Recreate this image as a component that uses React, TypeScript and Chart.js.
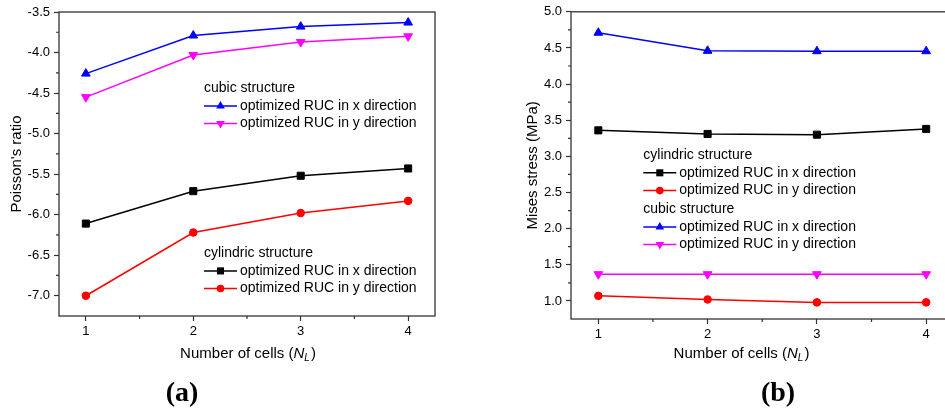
import React, { useEffect, useRef } from 'react';
import { Chart, registerables } from 'chart.js';

Chart.register(...registerables);

const FONT = "'Liberation Sans', Arial, Helvetica, sans-serif";
const FRAME = '#333333';

// ---- data ----
const CELLS = [1, 2, 3, 4];
const X_TICKS = [1, 2, 3, 4];
const POISSON_TICKS = [-7.0, -6.5, -6.0, -5.5, -5.0, -4.5, -4.0, -3.5];
const MISES_TICKS = [1.0, 1.5, 2.0, 2.5, 3.0, 3.5, 4.0, 4.5, 5.0];

const POISSON_CUBIC_X = [-4.26, -3.79, -3.68, -3.63];
const POISSON_CUBIC_Y = [-4.55, -4.03, -3.87, -3.8];
const POISSON_CYL_X = [-6.11, -5.71, -5.52, -5.43];
const POISSON_CYL_Y = [-7.0, -6.22, -5.98, -5.83];

const MISES_CYL_X = [3.36, 3.31, 3.3, 3.38];
const MISES_CYL_Y = [1.07, 1.02, 0.98, 0.98];
const MISES_CUBIC_X = [4.71, 4.46, 4.455, 4.455];
const MISES_CUBIC_Y = [1.37, 1.37, 1.37, 1.37];

const LABEL_X = 'optimized RUC in x direction';
const LABEL_Y = 'optimized RUC in y direction';
const CUBIC = 'cubic structure';
const CYL = 'cylindric structure';

type Marker = 'rect' | 'circle' | 'triangle' | 'triangleDown';

const BLUE = '#0000ff';
const MAGENTA = '#ff00ff';
const BLACK = '#000000';
const RED = '#ff0000';

function radiusFor(m: Marker) {
  if (m === 'rect') return 5;
  if (m === 'circle') return 3.8;
  return 5;
}

function makeDataset(label: string, values: number[], color: string, marker: Marker) {
  return {
    label,
    data: CELLS.map((x, i) => ({ x, y: values[i] })),
    borderColor: color,
    backgroundColor: color,
    borderWidth: 1.5,
    pointStyle: marker === 'triangleDown' ? 'triangle' : marker,
    pointRotation: marker === 'triangleDown' ? 180 : 0,
    pointRadius: radiusFor(marker),
    pointBorderWidth: 1,
    pointBackgroundColor: color,
    pointBorderColor: color,
    fill: false,
    tension: 0,
    marker,
  } as any;
}

function drawMarker(ctx: CanvasRenderingContext2D, m: Marker, x: number, y: number, color: string) {
  const r = radiusFor(m);
  ctx.fillStyle = color;
  ctx.beginPath();
  if (m === 'rect') {
    const s = Math.SQRT1_2 * r;
    ctx.rect(x - s, y - s, 2 * s, 2 * s);
  } else if (m === 'circle') {
    ctx.arc(x, y, r, 0, Math.PI * 2);
  } else {
    let rad = m === 'triangleDown' ? Math.PI : 0;
    for (let k = 0; k < 3; k++) {
      const px = x + Math.sin(rad) * r;
      const py = y - Math.cos(rad) * r;
      if (k === 0) ctx.moveTo(px, py);
      else ctx.lineTo(px, py);
      rad += (2 * Math.PI) / 3;
    }
    ctx.closePath();
  }
  ctx.fill();
}

const decorPlugin = {
  id: 'decor',
  afterDraw(chart: any, _args: any, opts: any) {
    const ctx: CanvasRenderingContext2D = chart.ctx;
    const a = chart.chartArea;
    const xs = chart.scales.x;
    const ys = chart.scales.y;
    ctx.save();

    // frame
    ctx.strokeStyle = FRAME;
    ctx.lineWidth = 1.3;
    ctx.strokeRect(a.left, a.top, a.right - a.left, a.bottom - a.top);

    // minor ticks
    ctx.lineWidth = 1.2;
    ctx.beginPath();
    const xt: number[] = opts.xTicks;
    for (let i = 0; i < xt.length - 1; i++) {
      const px = xs.getPixelForValue((xt[i] + xt[i + 1]) / 2);
      ctx.moveTo(px, a.bottom);
      ctx.lineTo(px, a.bottom + 3);
    }
    const yt: number[] = opts.yTicks;
    for (let i = 0; i < yt.length - 1; i++) {
      const py = ys.getPixelForValue((yt[i] + yt[i + 1]) / 2);
      ctx.moveTo(a.left, py);
      ctx.lineTo(a.left - 3, py);
    }
    ctx.stroke();

    // y title
    ctx.fillStyle = '#000';
    ctx.font = `15px ${FONT}`;
    ctx.textAlign = 'center';
    ctx.textBaseline = 'middle';
    ctx.save();
    ctx.translate(opts.yTitleX, (a.top + a.bottom) / 2);
    ctx.rotate(-Math.PI / 2);
    ctx.fillText(opts.yTitle, 0, 0);
    ctx.restore();

    // x title with italic N_L
    const parts = [
      { t: 'Number of cells (', f: `15px ${FONT}`, dy: 0 },
      { t: 'N', f: `italic 15px ${FONT}`, dy: 0 },
      { t: 'L', f: `italic 10px ${FONT}`, dy: 4 },
      { t: ')', f: `15px ${FONT}`, dy: 0 },
    ];
    let total = 0;
    for (const p of parts) {
      ctx.font = p.f;
      total += ctx.measureText(p.t).width;
    }
    let cx = opts.xTitleX - total / 2;
    ctx.textAlign = 'left';
    for (const p of parts) {
      ctx.font = p.f;
      ctx.fillText(p.t, cx, opts.xTitleY + p.dy);
      cx += ctx.measureText(p.t).width;
      if (p.t === 'L') cx += 1;
    }

    // legend groups
    ctx.font = `14px ${FONT}`;
    for (const g of opts.legend) {
      ctx.fillStyle = '#000';
      ctx.textAlign = 'left';
      ctx.textBaseline = 'middle';
      ctx.fillText(g.header, g.x, g.y);
      g.rows.forEach((di: number, k: number) => {
        const ds = chart.data.datasets[di];
        const ry = g.y + (k + 1) * g.gap;
        ctx.strokeStyle = ds.borderColor;
        ctx.lineWidth = 1.5;
        ctx.beginPath();
        ctx.moveTo(g.x, ry);
        ctx.lineTo(g.x + 33, ry);
        ctx.stroke();
        drawMarker(ctx, ds.marker, g.x + 16.5, ry, ds.borderColor);
        ctx.fillStyle = '#000';
        ctx.fillText(ds.label, g.x + 36, ry);
      });
    }
    ctx.restore();
  },
};

function buildConfig(p: {
  datasets: any[];
  yMin: number;
  yMax: number;
  yTicks: number[];
  yWidth: number;
  xHeight: number;
  padding: any;
  decor: any;
}) {
  return {
    type: 'line',
    data: { datasets: p.datasets },
    plugins: [decorPlugin],
    options: {
      responsive: false,
      animation: false,
      layout: { padding: p.padding },
      plugins: {
        legend: { display: false },
        tooltip: { enabled: false },
        decor: { ...p.decor, xTicks: X_TICKS, yTicks: p.yTicks },
      },
      scales: {
        x: {
          type: 'linear',
          min: 0.75,
          max: 4.25,
          afterBuildTicks: (s: any) => {
            s.ticks = X_TICKS.map((v) => ({ value: v }));
          },
          afterFit: (s: any) => {
            s.height = p.xHeight;
          },
          ticks: {
            font: { family: FONT, size: 13 },
            color: '#000',
            padding: 3,
            maxRotation: 0,
            autoSkip: false,
            callback: (v: any) => String(v),
          },
          grid: {
            display: true,
            drawOnChartArea: false,
            drawTicks: true,
            tickLength: 5,
            tickColor: FRAME,
            tickWidth: 1.2,
          },
          border: { display: false },
        },
        y: {
          type: 'linear',
          min: p.yMin,
          max: p.yMax,
          afterBuildTicks: (s: any) => {
            s.ticks = p.yTicks.map((v) => ({ value: v }));
          },
          afterFit: (s: any) => {
            s.width = p.yWidth;
          },
          ticks: {
            font: { family: FONT, size: 13 },
            color: '#000',
            padding: 4,
            autoSkip: false,
            callback: (v: any) => Number(v).toFixed(1),
          },
          grid: {
            display: true,
            drawOnChartArea: false,
            drawTicks: true,
            tickLength: 5,
            tickColor: FRAME,
            tickWidth: 1.2,
          },
          border: { display: false },
        },
      },
    },
  } as any;
}

export default function App() {
  const refA = useRef<HTMLCanvasElement>(null);
  const refB = useRef<HTMLCanvasElement>(null);

  useEffect(() => {
    const chartA = new Chart(
      refA.current as HTMLCanvasElement,
      buildConfig({
        datasets: [
          makeDataset(LABEL_X, POISSON_CUBIC_X, BLUE, 'triangle'),
          makeDataset(LABEL_Y, POISSON_CUBIC_Y, MAGENTA, 'triangleDown'),
          makeDataset(LABEL_X, POISSON_CYL_X, BLACK, 'rect'),
          makeDataset(LABEL_Y, POISSON_CYL_Y, RED, 'circle'),
        ],
        yMin: -7.25,
        yMax: -3.5,
        yTicks: POISSON_TICKS,
        yWidth: 59,
        xHeight: 97,
        padding: { left: 0, top: 12, right: 35, bottom: 0 },
        decor: {
          yTitle: "Poisson's ratio",
          yTitleX: 17,
          xTitleX: 247.5,
          xTitleY: 354,
          legend: [
            { header: CUBIC, x: 204, y: 88.3, gap: 17.6, rows: [0, 1] },
            { header: CYL, x: 204, y: 253.3, gap: 17.6, rows: [2, 3] },
          ],
        },
      })
    );
    const chartB = new Chart(
      refB.current as HTMLCanvasElement,
      buildConfig({
        datasets: [
          makeDataset(LABEL_X, MISES_CYL_X, BLACK, 'rect'),
          makeDataset(LABEL_Y, MISES_CYL_Y, RED, 'circle'),
          makeDataset(LABEL_X, MISES_CUBIC_X, BLUE, 'triangle'),
          makeDataset(LABEL_Y, MISES_CUBIC_Y, MAGENTA, 'triangleDown'),
        ],
        yMin: 0.75,
        yMax: 5.0,
        yTicks: MISES_TICKS,
        yWidth: 101,
        xHeight: 94,
        padding: { left: 0, top: 11, right: 16.5, bottom: 0 },
        decor: {
          yTitle: 'Mises stress (MPa)',
          yTitleX: 63,
          xTitleX: 271,
          xTitleY: 354,
          legend: [
            { header: CYL, x: 173.3, y: 155, gap: 17.8, rows: [0, 1] },
            { header: CUBIC, x: 173.3, y: 209.3, gap: 17.6, rows: [2, 3] },
          ],
        },
      })
    );
    return () => {
      chartA.destroy();
      chartB.destroy();
    };
  }, []);

  const caption: React.CSSProperties = {
    position: 'absolute',
    top: 392,
    transform: 'translate(-50%, -50%)',
    fontFamily: "'Liberation Serif', 'Times New Roman', serif",
    fontWeight: 'bold',
    fontSize: 28,
    lineHeight: 1,
    color: '#000',
    whiteSpace: 'nowrap',
  };

  return (
    <div
      style={{
        position: 'fixed',
        left: 0,
        top: 0,
        width: 945,
        height: 413,
        overflow: 'hidden',
        background: '#fff',
      }}
    >
      <canvas
        ref={refA}
        width={470}
        height={413}
        style={{ position: 'absolute', left: 0, top: 0, width: 470, height: 413 }}
      />
      <canvas
        ref={refB}
        width={500}
        height={413}
        style={{ position: 'absolute', left: 470, top: 0, width: 500, height: 413 }}
      />
      <div style={{ ...caption, left: 182 }}>(a)</div>
      <div style={{ ...caption, left: 778 }}>(b)</div>
    </div>
  );
}
